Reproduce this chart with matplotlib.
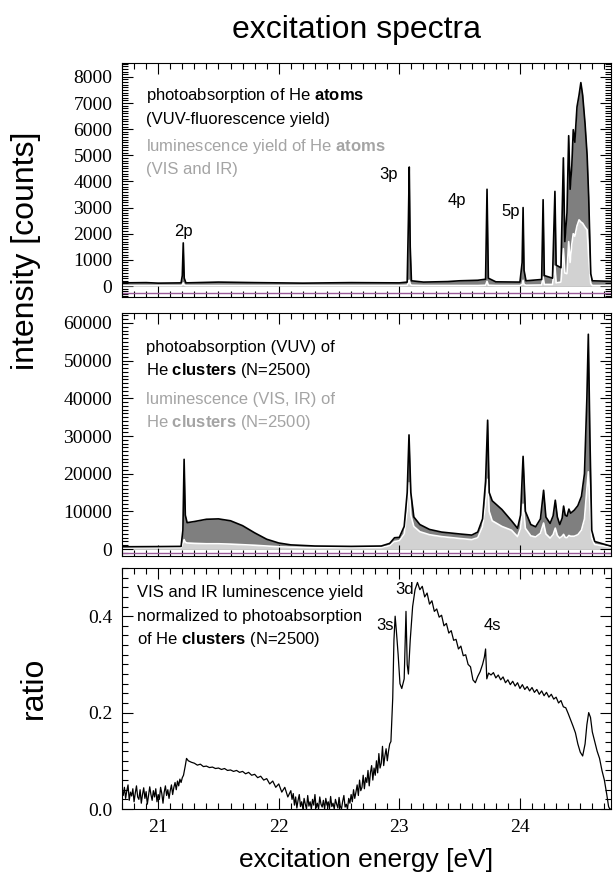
import matplotlib
matplotlib.use("Agg")
import matplotlib.pyplot as plt
from matplotlib.ticker import MultipleLocator, FormatStrFormatter

plt.rcParams['font.family'] = ['Liberation Sans', 'DejaVu Sans']
plt.rcParams['mathtext.fontset'] = 'custom'
plt.rcParams['mathtext.rm'] = 'Liberation Sans'
plt.rcParams['mathtext.bf'] = 'Liberation Sans:bold'

# top panel: He atoms, photoabsorption (black) and luminescence (white)
atom_E = [20.70, 20.90, 21.00, 21.19, 21.200, 21.208, 21.216, 21.23, 21.50, 21.80, 22.20, 22.60,
          23.00, 23.065, 23.075, 23.082, 23.090, 23.10, 23.20, 23.40, 23.50, 23.65, 23.715, 23.727,
          23.738, 23.80, 24.00, 24.018, 24.026, 24.034, 24.05, 24.18, 24.192, 24.202, 24.27, 24.290,
          24.300, 24.34, 24.360, 24.372, 24.390, 24.404, 24.416, 24.430, 24.442, 24.455, 24.473,
          24.490, 24.505, 24.520, 24.540, 24.557, 24.570, 24.587, 24.60, 24.75]
atom_abs = [120, 130, 110, 120, 400, 1650, 300, 120, 150, 130, 110, 130,
            120, 150, 2500, 4550, 1500, 200, 150, 170, 200, 220, 260, 3700,
            300, 160, 150, 900, 3000, 600, 200, 250, 3300, 400, 300, 3620,
            800, 700, 4900, 1700, 2800, 5750, 3700, 4600, 5980, 5500, 6850,
            7300, 7780, 7300, 6200, 5000, 3400, 470, 200, 180]
atom_lum = [20, 20, 20, 20, 40, 120, 40, 20, 20, 20, 20, 20,
            20, 30, 120, 220, 80, 30, 20, 20, 20, 20, 30, 180,
            30, 20, 20, 60, 220, 60, 30, 40, 350, 60, 60, 770,
            120, 150, 1430, 500, 470, 1700, 900, 1600, 2000, 1900, 2300,
            2530, 2450, 2400, 2250, 2150, 1100, 100, 20, 20]

# middle panel: He clusters
clu_E = [20.70, 21.00, 21.19, 21.205, 21.215, 21.225, 21.24, 21.30, 21.40, 21.50, 21.60, 21.70,
         21.80, 21.90, 22.00, 22.10, 22.30, 22.60, 22.85, 22.92, 22.96, 23.00, 23.04, 23.065,
         23.08, 23.095, 23.12, 23.17, 23.25, 23.35, 23.50, 23.60, 23.65, 23.69, 23.715, 23.732,
         23.745, 23.77, 23.85, 23.93, 23.98, 24.005, 24.026, 24.045, 24.09, 24.13, 24.17, 24.196,
         24.215, 24.25, 24.275, 24.293, 24.31, 24.33, 24.35, 24.362, 24.375, 24.39, 24.406, 24.42,
         24.45, 24.48, 24.51, 24.535, 24.555, 24.567, 24.58, 24.595, 24.62, 24.75]
clu_abs = [600, 650, 700, 5000, 23800, 9000, 7000, 7300, 7900, 8000, 7500, 6200,
           4300, 2600, 1600, 1100, 800, 700, 800, 1500, 3000, 3100, 6000, 15000,
           30300, 15000, 8500, 6500, 5200, 4500, 4000, 3700, 4500, 8000, 18000, 34200,
           15000, 12800, 10500, 7500, 5500, 9000, 24600, 10000, 6500, 5900, 8000, 15600,
           8500, 6800, 8800, 12960, 8500, 6500, 8200, 11400, 9000, 8700, 10600, 9500,
           10300, 11500, 14000, 20000, 40000, 57000, 30000, 5000, 2000, 800]
clu_lum = [300, 320, 350, 1500, 2500, 1800, 1600, 1500, 1400, 1400, 1300, 1150,
           1000, 800, 600, 500, 400, 400, 400, 900, 2000, 2200, 4000, 10000,
           17600, 9000, 6000, 4600, 3800, 3300, 2800, 2500, 3000, 6000, 12000, 18500,
           10000, 7500, 6000, 5000, 3300, 5500, 11900, 5500, 3500, 3200, 4200, 6900,
           4000, 2900, 3800, 5550, 3600, 2900, 3400, 3900, 3100, 3000, 3600, 3400,
           3400, 3800, 5000, 8000, 16000, 20500, 12000, 3000, 1200, 500]

# bottom panel: luminescence / photoabsorption ratio
ratio_E = [
    20.70, 20.71, 20.72, 20.73, 20.74, 20.75, 20.76, 20.77, 20.78, 20.79,
    20.80, 20.81, 20.82, 20.83, 20.84, 20.85, 20.86, 20.87, 20.88, 20.89,
    20.90, 20.91, 20.92, 20.93, 20.94, 20.95, 20.96, 20.97, 20.98, 20.99,
    21.00, 21.01, 21.02, 21.03, 21.04, 21.05, 21.06, 21.07, 21.08, 21.09,
    21.10, 21.11, 21.12, 21.13, 21.14, 21.15, 21.16, 21.17, 21.18, 21.19, 21.20,
    21.21, 21.225, 21.235,
    21.25, 21.275, 21.30, 21.325, 21.35, 21.375, 21.40, 21.425, 21.45, 21.475,
    21.50, 21.525, 21.55, 21.575, 21.60, 21.625, 21.65, 21.675, 21.70, 21.725,
    21.75, 21.775, 21.80, 21.825, 21.85, 21.875, 21.90, 21.925, 21.95, 21.975,
    22.00, 22.025, 22.05, 22.075, 22.10,
    22.11, 22.12, 22.13, 22.14, 22.15, 22.16, 22.17, 22.18, 22.19, 22.20,
    22.21, 22.22, 22.23, 22.24, 22.25, 22.26, 22.27, 22.28, 22.29, 22.30,
    22.31, 22.32, 22.33, 22.34, 22.35, 22.36, 22.37, 22.38, 22.39, 22.40,
    22.41, 22.42, 22.43, 22.44, 22.45, 22.46, 22.47, 22.48, 22.49, 22.50,
    22.51, 22.52, 22.53, 22.54, 22.55, 22.56, 22.57, 22.58, 22.59, 22.60,
    22.61, 22.62, 22.63, 22.64, 22.65, 22.66, 22.67, 22.68, 22.69, 22.70,
    22.71, 22.72, 22.73, 22.74, 22.75, 22.76, 22.77, 22.78, 22.79, 22.80,
    22.81, 22.82, 22.83, 22.84, 22.85, 22.86, 22.87, 22.88, 22.89, 22.90,
    22.91, 22.92,
    22.93, 22.945, 22.955, 22.965, 22.975, 22.99, 23.005, 23.02, 23.04, 23.055,
    23.065, 23.075, 23.09, 23.11, 23.13,
    23.15, 23.17, 23.19, 23.21, 23.23, 23.25, 23.27, 23.29, 23.31, 23.33,
    23.35, 23.37, 23.39, 23.41, 23.43, 23.45, 23.47, 23.49, 23.51, 23.53,
    23.55, 23.57, 23.59, 23.61, 23.63, 23.65, 23.67, 23.69, 23.705, 23.715,
    23.725, 23.74, 23.76, 23.78, 23.80, 23.82, 23.84, 23.86, 23.88, 23.90,
    23.92, 23.94, 23.96, 23.98, 24.00, 24.02, 24.04, 24.06, 24.08, 24.10,
    24.12, 24.14, 24.16, 24.18, 24.20, 24.22, 24.24, 24.26, 24.28, 24.30,
    24.32, 24.34, 24.36, 24.38, 24.40, 24.42, 24.44, 24.46, 24.48, 24.50,
    24.52, 24.54, 24.555, 24.57, 24.585, 24.60, 24.62, 24.64, 24.66, 24.68,
    24.70, 24.72, 24.735, 24.745, 24.755]
ratio = [
    0.040, 0.028, 0.045, 0.022, 0.038, 0.050, 0.018, 0.035, 0.027, 0.042,
    0.015, 0.033, 0.048, 0.025, 0.020, 0.040, 0.012, 0.030, 0.044, 0.022,
    0.036, 0.010, 0.028, 0.046, 0.030, 0.018, 0.038, 0.025, 0.042, 0.015,
    0.030, 0.020, 0.045, 0.032, 0.012, 0.035, 0.048, 0.028, 0.040, 0.022,
    0.038, 0.050, 0.030, 0.045, 0.055, 0.040, 0.058, 0.048, 0.062, 0.055, 0.065,
    0.070, 0.090, 0.105,
    0.100, 0.097, 0.095, 0.091, 0.093, 0.088, 0.089, 0.086, 0.087, 0.084,
    0.085, 0.082, 0.084, 0.080, 0.081, 0.078, 0.080, 0.076, 0.078, 0.073,
    0.076, 0.070, 0.072, 0.065, 0.068, 0.060, 0.063, 0.052, 0.058, 0.045,
    0.052, 0.035, 0.045, 0.025, 0.038,
    0.020, 0.032, 0.008, 0.025, 0.002, 0.018, 0.030, 0.005, 0.015, 0.000,
    0.022, 0.010, 0.000, 0.028, 0.006, 0.015, 0.000, 0.020, 0.008, 0.030,
    0.002, 0.012, 0.000, 0.025, 0.010, 0.004, 0.018, 0.000, 0.022, 0.008,
    0.015, 0.000, 0.026, 0.005, 0.012, 0.000, 0.020, 0.010, 0.002, 0.024,
    0.006, 0.000, 0.016, 0.028, 0.004, 0.010, 0.000, 0.022, 0.012, 0.030,
    0.015, 0.040, 0.022, 0.035, 0.050, 0.028, 0.060, 0.038, 0.045, 0.070,
    0.042, 0.065, 0.055, 0.080, 0.048, 0.075, 0.090, 0.060, 0.085, 0.070,
    0.100, 0.075, 0.115, 0.085, 0.095, 0.130, 0.090, 0.110, 0.125, 0.100,
    0.120, 0.135,
    0.140, 0.230, 0.350, 0.400, 0.370, 0.320, 0.260, 0.250, 0.270, 0.410,
    0.300, 0.280, 0.350, 0.420, 0.455,
    0.470, 0.455, 0.462, 0.440, 0.448, 0.425, 0.432, 0.410, 0.415, 0.398,
    0.402, 0.380, 0.385, 0.365, 0.370, 0.350, 0.352, 0.332, 0.338, 0.318,
    0.320, 0.300, 0.295, 0.268, 0.262, 0.275, 0.285, 0.300, 0.315, 0.332,
    0.270, 0.282, 0.278, 0.283, 0.272, 0.278, 0.268, 0.274, 0.262, 0.268,
    0.258, 0.265, 0.255, 0.262, 0.250, 0.258, 0.248, 0.254, 0.245, 0.252,
    0.242, 0.248, 0.238, 0.245, 0.235, 0.242, 0.232, 0.238, 0.228, 0.232,
    0.220, 0.225, 0.212, 0.210, 0.198, 0.185, 0.172, 0.158, 0.135, 0.118,
    0.110, 0.135, 0.175, 0.200, 0.190, 0.160, 0.140, 0.120, 0.105, 0.080,
    0.060, 0.030, 0.005, 0.000, 0.000]

yticks_top = 1000
yticks_mid = 10000

dark = '#7f7f7f'
light = '#d2d2d2'
txtgray = '#a4a4a4'
purple = '#9a5a9a'

fig = plt.figure(figsize=(6.15, 8.75), dpi=100)
W, H = 615, 875
def box(top, bot):
    return [122 / W, 1 - bot / H, (611 - 122) / W, (bot - top) / H]

ax1 = fig.add_axes(box(63, 297))
ax2 = fig.add_axes(box(313, 556))
ax3 = fig.add_axes(box(568, 809))

for ax, E, a, l in [(ax1, atom_E, atom_abs, atom_lum), (ax2, clu_E, clu_abs, clu_lum)]:
    ax.fill_between(E, a, 0, color=dark, lw=0)
    ax.fill_between(E, l, 0, color=light, lw=0)
    ax.plot(E, l, color='white', lw=1.2)
    ax.plot(E, a, color='black', lw=1.2)

ax3.plot(ratio_E, ratio, color='black', lw=0.9)

ax1.set_ylim(-420, 8530)
ax2.set_ylim(-1850, 62650)
ax3.set_ylim(0, 0.5)
ax1.axhline(-280, color=purple, lw=1)
ax2.axhline(-1100, color=purple, lw=1)

ax1.yaxis.set_major_locator(MultipleLocator(yticks_top))
ax1.yaxis.set_minor_locator(MultipleLocator(yticks_top / 10))
ax2.yaxis.set_major_locator(MultipleLocator(yticks_mid))
ax2.yaxis.set_minor_locator(MultipleLocator(yticks_mid / 10))
ax3.yaxis.set_major_locator(MultipleLocator(0.2))
ax3.yaxis.set_minor_locator(MultipleLocator(0.02))
ax3.yaxis.set_major_formatter(FormatStrFormatter('%.1f'))

for ax in (ax1, ax2, ax3):
    ax.set_xlim(20.70, 24.755)
    ax.xaxis.set_major_locator(MultipleLocator(1))
    ax.xaxis.set_minor_locator(MultipleLocator(0.1))
    ax.tick_params(which='both', direction='in', top=True, right=True, width=0.8)
    ax.tick_params(which='major', length=8, labelsize=14, pad=7)
    ax.tick_params(which='minor', length=4)
    for lab in ax.get_xticklabels() + ax.get_yticklabels():
        lab.set_family('Liberation Serif')
ax1.set_xticklabels([])
ax2.set_xticklabels([])

# annotations
fs = 12
ax1.text(0.05, 0.86, r'photoabsorption of He $\mathbf{atoms}$', transform=ax1.transAxes, fontsize=fs, va='center')
ax1.text(0.05, 0.76, '(VUV-fluorescence yield)', transform=ax1.transAxes, fontsize=fs, va='center')
ax1.text(0.05, 0.645, r'luminescence yield of He $\mathbf{atoms}$', transform=ax1.transAxes, fontsize=fs, va='center', color=txtgray)
ax1.text(0.05, 0.545, '(VIS and IR)', transform=ax1.transAxes, fontsize=fs, va='center', color=txtgray)
for s, x, y in [('2p', 21.206, 2070), ('3p', 22.91, 4250), ('4p', 23.48, 3270), ('5p', 23.92, 2840)]:
    ax1.text(x, y, s, fontsize=fs, ha='center', va='center')

ax2.text(0.05, 0.86, 'photoabsorption (VUV) of', transform=ax2.transAxes, fontsize=fs, va='center')
ax2.text(0.05, 0.765, r'He $\mathbf{clusters}$ (N=2500)', transform=ax2.transAxes, fontsize=fs, va='center')
ax2.text(0.05, 0.645, 'luminescence (VIS, IR) of', transform=ax2.transAxes, fontsize=fs, va='center', color=txtgray)
ax2.text(0.05, 0.55, r'He $\mathbf{clusters}$ (N=2500)', transform=ax2.transAxes, fontsize=fs, va='center', color=txtgray)

ax3.text(0.03, 0.90, 'VIS and IR luminescence yield', transform=ax3.transAxes, fontsize=fs, va='center')
ax3.text(0.03, 0.80, 'normalized to photoabsorption', transform=ax3.transAxes, fontsize=fs, va='center')
ax3.text(0.03, 0.705, r'of He $\mathbf{clusters}$ (N=2500)', transform=ax3.transAxes, fontsize=fs, va='center')
for s, x, y in [('3d', 23.04, 0.455), ('3s', 22.88, 0.38), ('4s', 23.77, 0.38)]:
    ax3.text(x, y, s, fontsize=fs, ha='center', va='center')

fig.text(357 / W, 1 - 30 / H, 'excitation spectra', fontsize=23, ha='center', va='center')
fig.text(26 / W, 1 - 251 / H, 'intensity [counts]', fontsize=23, rotation=90, ha='center', va='center')
fig.text(34 / W, 1 - 688 / H, 'ratio', fontsize=23, rotation=90, ha='center', va='center')
fig.text(366 / W, 1 - 860 / H, 'excitation energy [eV]', fontsize=19, ha='center', va='center')

fig.savefig('out.png', dpi=100)
